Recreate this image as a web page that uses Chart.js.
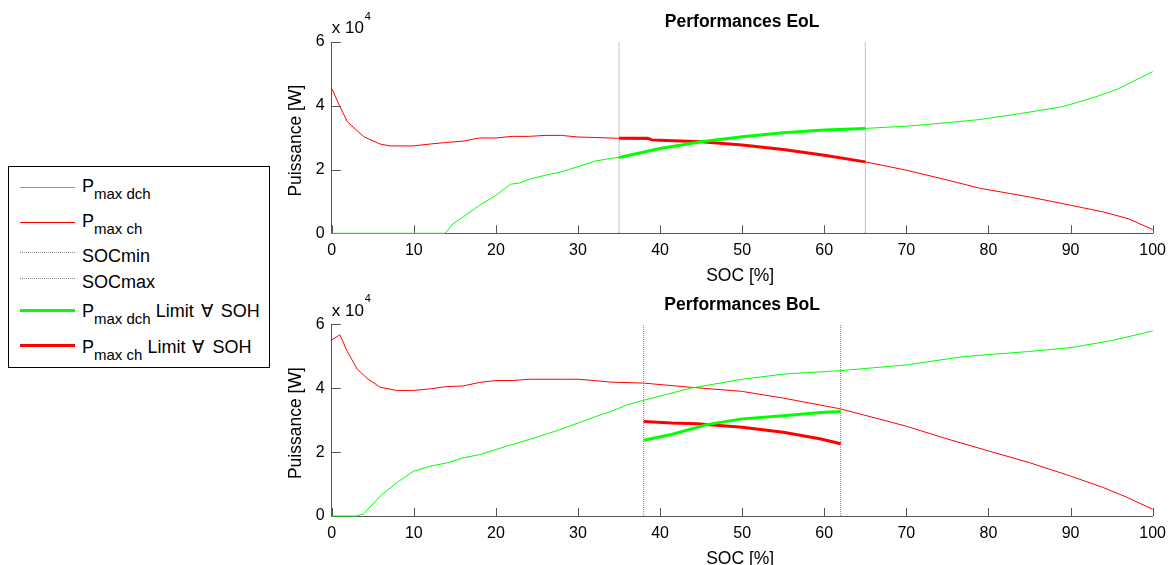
<!DOCTYPE html>
<html><head><meta charset="utf-8">
<script src="https://cdn.jsdelivr.net/npm/chart.js@4.4.1/dist/chart.umd.min.js"></script>
<style>
html,body{margin:0;padding:0;background:#fff;width:1174px;height:565px;overflow:hidden;font-family:"Liberation Sans",Arial,sans-serif;}
canvas{position:absolute;left:0;}
#c1{top:0;}
#c2{top:283px;}
#legend{position:absolute;left:8px;top:166px;width:260px;height:200px;border:1px solid #000;background:#fff;}
.row{position:absolute;left:73px;white-space:nowrap;font-size:18px;line-height:18px;color:#000;}
.sub{font-size:15px;position:relative;top:7.5px;}
.fa{display:inline-block;margin:0 3px 0 2px;}
.smp{position:absolute;left:11px;width:55px;height:0;}
</style></head>
<body>
<canvas id="c1" width="1174" height="300"></canvas>
<canvas id="c2" width="1174" height="282"></canvas>
<div id="legend">
  <div class="smp" style="top:19.5px;border-top:1px solid #00ff00;"></div>
  <div class="row" style="top:9.5px;">P<span class="sub">max dch</span></div>
  <div class="smp" style="top:54.5px;border-top:1px solid #ff0000;"></div>
  <div class="row" style="top:44.5px;">P<span class="sub">max ch</span></div>
  <div class="smp" style="top:84.5px;border-top:1px dotted #888;"></div>
  <div class="row" style="top:79.5px;">SOCmin</div>
  <div class="smp" style="top:111px;border-top:1px dotted #888;"></div>
  <div class="row" style="top:106px;">SOCmax</div>
  <div class="smp" style="top:141.5px;border-top:3px solid #00ff00;"></div>
  <div class="row" style="top:134.5px;">P<span class="sub">max dch</span> Limit <span class="fa">&#8704;</span> SOH</div>
  <div class="smp" style="top:176.5px;border-top:3px solid #ff0000;"></div>
  <div class="row" style="top:170.5px;">P<span class="sub">max ch</span> Limit <span class="fa">&#8704;</span> SOH</div>
</div>
<script>
// ---- Data (power in units of 10^4 W, SOC in %) ----
// End of Life
const eolDchSoc = [0, 13.8, 14.8, 16, 18, 20, 21.8, 22.9, 24, 26, 28, 30, 32, 34, 35, 40, 45, 50, 55, 60, 65, 70, 75, 79, 84, 89, 92.6, 95.7, 100];
const eolDchVal = [0, 0, 0.3, 0.51, 0.88, 1.19, 1.54, 1.58, 1.69, 1.82, 1.93, 2.09, 2.26, 2.35, 2.38, 2.66, 2.87, 3.03, 3.15, 3.24, 3.29, 3.36, 3.47, 3.57, 3.76, 3.97, 4.24, 4.52, 5.07];
const eolChSoc = [0, 0.9, 1.9, 3.9, 5.9, 7.1, 9.9, 12, 14, 16, 18, 20, 22, 24, 26, 28, 30, 35, 40, 45, 50, 55, 60, 65, 70, 75, 79, 85, 90, 94, 97, 100];
const eolChVal = [4.55, 4.03, 3.5, 3.03, 2.8, 2.74, 2.74, 2.8, 2.85, 2.89, 2.99, 2.99, 3.04, 3.04, 3.07, 3.07, 3.02, 2.98, 2.92, 2.87, 2.77, 2.63, 2.45, 2.24, 1.98, 1.67, 1.41, 1.14, 0.88, 0.67, 0.46, 0.12];
const eolLimDchSoc = [35, 40, 45, 50, 55, 60, 65];
const eolLimDchVal = [2.38, 2.66, 2.87, 3.03, 3.15, 3.24, 3.29];
const eolLimChSoc = [35, 38.5, 39, 40, 45, 50, 55, 60, 65];
const eolLimChVal = [2.98, 2.98, 2.93, 2.92, 2.87, 2.77, 2.63, 2.45, 2.24];
const eolSocMin = 35, eolSocMax = 65;
// Beginning of Life
const bolDchSoc = [0, 3, 3.9, 5.9, 7.9, 9.95, 12, 14, 16, 18, 20, 22, 24, 26, 28, 30, 32, 34, 36, 38, 43.7, 50, 55, 62, 70, 77, 85, 90, 95, 100];
const bolDchVal = [0, 0, 0.07, 0.62, 1.04, 1.40, 1.56, 1.66, 1.82, 1.92, 2.08, 2.24, 2.39, 2.55, 2.72, 2.91, 3.1, 3.27, 3.48, 3.62, 4.0, 4.28, 4.44, 4.55, 4.73, 4.99, 5.15, 5.27, 5.49, 5.79];
const bolChSoc = [0, 1, 1.9, 3.1, 4.3, 5.9, 7.9, 9.95, 12, 14, 16, 18, 20, 22, 24, 26, 28, 30, 32, 34, 38, 43.7, 50, 55, 60, 62, 64.7, 70, 75, 80.5, 85, 90, 94, 97, 100];
const bolChVal = [5.51, 5.67, 5.15, 4.6, 4.31, 4.03, 3.93, 3.93, 3.98, 4.05, 4.07, 4.18, 4.24, 4.24, 4.28, 4.28, 4.28, 4.28, 4.24, 4.19, 4.16, 4.03, 3.9, 3.69, 3.45, 3.35, 3.17, 2.81, 2.41, 2.0, 1.67, 1.25, 0.89, 0.57, 0.21];
const bolLimDchSoc = [38, 41.4, 45.7, 50, 55, 59.6, 62];
const bolLimDchVal = [2.37, 2.55, 2.86, 3.04, 3.14, 3.24, 3.27];
const bolLimChSoc = [38, 41.4, 44.5, 50, 55, 59.6, 62];
const bolLimChVal = [2.96, 2.91, 2.89, 2.78, 2.62, 2.41, 2.26];
const bolSocMin = 38, bolSocMax = 62;
// Axes
const xTickStep = 10, xMin = 0, xMax = 100;
const yTickStep = 2, yMin = 0, yMax = 6;
const titles = ["Performances EoL", "Performances BoL"];
const xLabel = "SOC [%]";
const yLabel = "Puissance [W]";

const FONT = "'Liberation Sans', Arial, sans-serif";
Chart.defaults.font.family = FONT;
Chart.defaults.color = '#000';

function pts(xs, ys) { return xs.map((x, i) => ({x: x, y: ys[i]})); }

const inwardTicks = {
  id: 'inwardTicks',
  beforeDatasetsDraw(chart) {
    const {ctx, chartArea: a, scales: {x, y}} = chart;
    ctx.save();
    ctx.strokeStyle = '#555'; ctx.lineWidth = 1;
    ctx.beginPath();
    x.ticks.forEach(t => { const px = Math.round(x.getPixelForValue(t.value)) + 0.5; ctx.moveTo(px, a.bottom); ctx.lineTo(px, a.bottom - 8); });
    y.ticks.forEach(t => { const py = Math.round(y.getPixelForValue(t.value)) + 0.5; ctx.moveTo(a.left, py); ctx.lineTo(a.left + 9, py); });
    ctx.stroke();
    ctx.restore();
  }
};

const textPlugin = {
  id: 'texts',
  afterDraw(chart, args, opts) {
    const {ctx, chartArea: a} = chart;
    const cx = (a.left + a.right) / 2;
    ctx.save();
    ctx.fillStyle = '#000';
    ctx.textBaseline = 'alphabetic';
    ctx.textAlign = 'center';
    ctx.font = 'bold 17.5px ' + FONT;
    ctx.fillText(opts.title, cx, a.top - 14.7);
    ctx.font = '17.5px ' + FONT;
    ctx.fillText(xLabel, cx - 2, a.bottom + 48);
    ctx.textAlign = 'left';
    ctx.font = '17px ' + FONT;
    ctx.fillText('x 10', a.left, a.top - 8.7);
    const w = ctx.measureText('x 10').width;
    ctx.font = '11px ' + FONT;
    ctx.fillText('4', a.left + w + 1, a.top - 22);
    ctx.translate(301, (a.top + a.bottom) / 2 + 3);
    ctx.rotate(-Math.PI / 2);
    ctx.textAlign = 'center';
    ctx.font = '17.5px ' + FONT;
    ctx.fillText(yLabel, 0, 0);
    ctx.restore();
  }
};

function makeChart(id, title, dchS, dchV, chS, chV, ldS, ldV, lcS, lcV, smin, smax, padTop, padBottom) {
  const thin = (data, color) => ({data, borderColor: color, borderWidth: 1, pointRadius: 0, tension: 0, fill: false, order: 2, clip: false});
  const vline = (s) => ({data: pts([s, s], [yMin, yMax]), borderColor: '#808080', borderWidth: 1, borderDash: [1, 1], pointRadius: 0, fill: false, order: 1});
  const thick = (data, color) => ({data, borderColor: color, borderWidth: 3, pointRadius: 0, tension: 0, fill: false, order: 0});
  return new Chart(document.getElementById(id), {
    type: 'line',
    data: {
      datasets: [
        thin(pts(dchS, dchV), '#00ff00'),
        thin(pts(chS, chV), '#ff0000'),
        vline(smin),
        vline(smax),
        thick(pts(ldS, ldV), '#00ff00'),
        thick(pts(lcS, lcV), '#ff0000')
      ]
    },
    options: {
      responsive: false,
      devicePixelRatio: 1,
      animation: false,
      events: [],
      layout: {padding: {left: 281.7, right: 18, top: padTop, bottom: padBottom}},
      plugins: {legend: {display: false}, tooltip: {enabled: false}, texts: {title: title}},
      scales: {
        x: {
          type: 'linear', min: xMin, max: xMax,
          ticks: {stepSize: xTickStep, font: {size: 16}, padding: 8, maxRotation: 0, color: '#000'},
          grid: {display: false, drawTicks: false},
          border: {display: true, color: '#555', width: 1},
          afterFit: s => { s.height = 40; }
        },
        y: {
          type: 'linear', min: yMin, max: yMax,
          ticks: {stepSize: yTickStep, font: {size: 16}, padding: 7, color: '#000'},
          grid: {display: false, drawTicks: false},
          border: {display: true, color: '#555', width: 1},
          afterFit: s => { s.width = 50; }
        }
      }
    },
    plugins: [inwardTicks, textPlugin]
  });
}

makeChart('c1', titles[0], eolDchSoc, eolDchVal, eolChSoc, eolChVal, eolLimDchSoc, eolLimDchVal, eolLimChSoc, eolLimChVal, eolSocMin, eolSocMax, 42, 300 - 233.3 - 40);
makeChart('c2', titles[1], bolDchSoc, bolDchVal, bolChSoc, bolChVal, bolLimDchSoc, bolLimDchVal, bolLimChSoc, bolLimChVal, bolSocMin, bolSocMax, 41.3, 282 - 233 - 40);
</script>
</body></html>
